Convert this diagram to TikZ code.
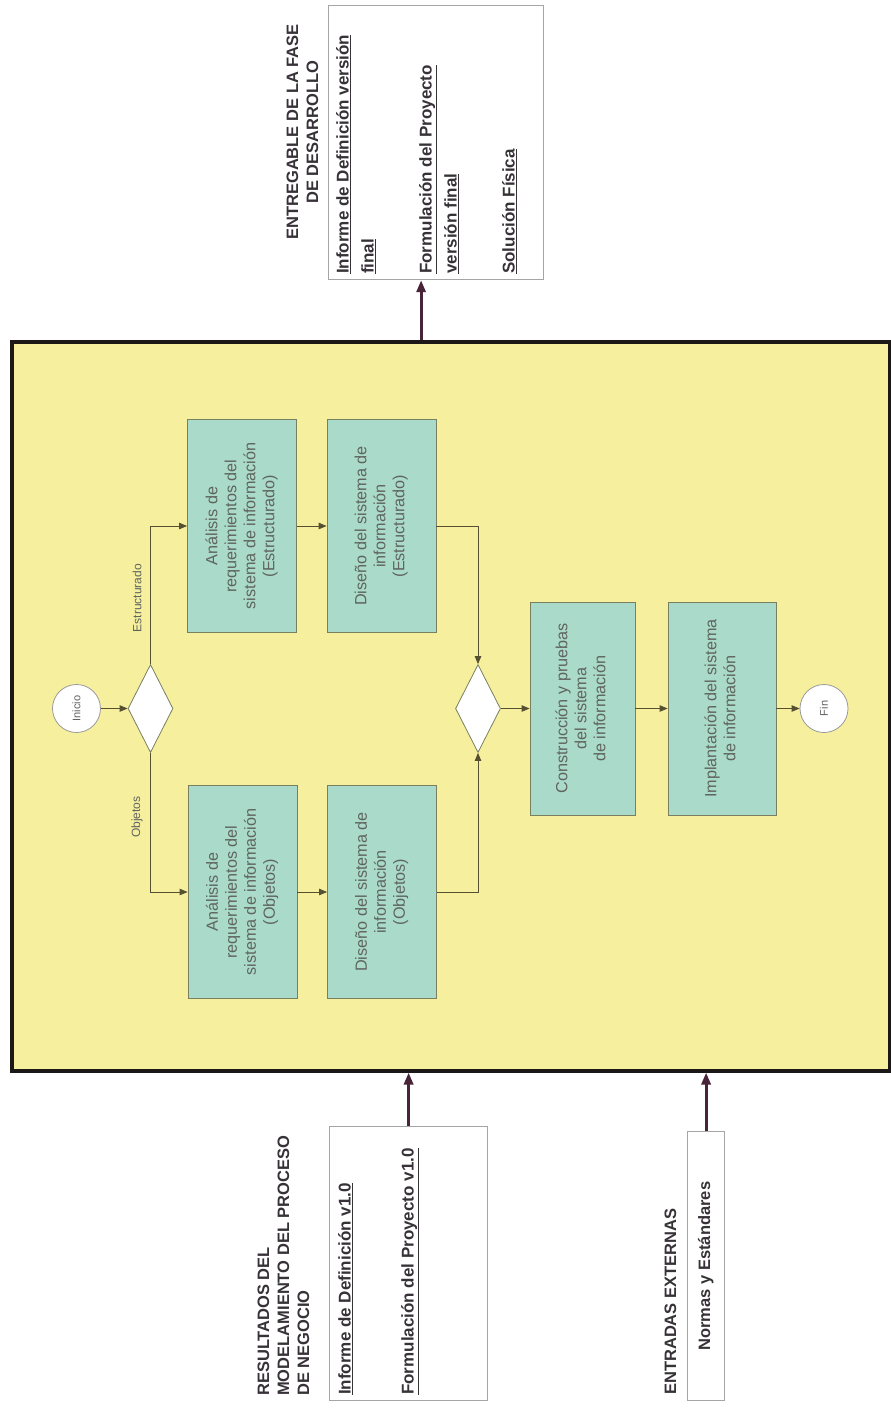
\documentclass[tikz,border=0pt]{standalone}
\usepackage{fontspec}
\setmainfont{Liberation Sans}
\usepackage{graphicx}
\usetikzlibrary{shapes.geometric,arrows.meta}
\definecolor{fasefill}{RGB}{246,239,158}
\definecolor{faseline}{RGB}{28,24,24}
\definecolor{stepfill}{RGB}{170,219,202}
\definecolor{stepline}{RGB}{120,128,95}
\definecolor{steptext}{RGB}{95,100,95}
\definecolor{flowline}{RGB}{85,80,50}
\definecolor{ioline}{RGB}{72,36,56}
\definecolor{docline}{RGB}{165,165,165}
\definecolor{doctext}{RGB}{55,50,55}
% text block turned a quarter turn, reading upwards
\newcommand\vblock[2]{\rotatebox{90}{\begin{tabular}{@{}#1@{}}#2\end{tabular}}}

\begin{document}
\begin{tikzpicture}[x=1pt,y=1pt,
  fasebox/.style={draw=faseline, line width=3.5pt, fill=fasefill, inner sep=0, anchor=north west},
  stepbox/.style={draw=stepline, line width=0.8pt, fill=stepfill, minimum width=109pt, minimum height=213pt,
    inner sep=0, text=steptext, font=\fontsize{16.2}{19}\selectfont},
  gate/.style={diamond, draw=stepline, fill=white, line width=0.8pt, minimum width=45pt, minimum height=88pt, inner sep=0},
  terminal/.style={circle, draw=gray!80, fill=white, line width=0.8pt, minimum size=48pt, inner sep=0,
    text=steptext, font=\fontsize{11}{12}\selectfont},
  flow/.style={draw=flowline, line width=0.8pt, -{Triangle[length=8pt,width=6.5pt]}},
  iobox/.style={draw=docline, line width=1.2pt, fill=white, inner sep=0, anchor=north west},
  ioflow/.style={draw=ioline, line width=3pt, -{Triangle[length=12pt,width=9pt]}},
  heading/.style={inner sep=0, text=doctext, font=\fontsize{16.5}{20}\selectfont\bfseries},
  doc/.style={inner sep=0, text=doctext, font=\fontsize{17}{25}\selectfont\bfseries, anchor=south west},
  branch/.style={inner sep=0, text=steptext, font=\fontsize{12}{13}\selectfont, rotate=90}
]
\useasboundingbox (0,0) rectangle (891,-1416);
\fill[white] (0,0) rectangle (891,-1416);

% development phase frame
\node[fasebox, minimum width=878pt, minimum height=729pt] (fase) at (10,-340) {};

% deliverables
\node[iobox, minimum width=215pt, minimum height=274pt] (entrega) at (328,-5) {};
\node[heading] (tEntrega) at (304,-132) {\vblock{c}{ENTREGABLE DE LA FASE\\DE DESARROLLO}};
\node[doc] (dInforme) at (331,-274) {\vblock{l}{\underline{Informe de Definición versión}\\\underline{final}}};
\node[doc] (dFormula) at (414,-274) {\vblock{l}{\underline{Formulación del Proyecto}\\\underline{versión final}}};
\node[doc] (dSolucion) at (497,-274) {\vblock{l}{\underline{Solución Física}}};

% inputs
\node[iobox, minimum width=158pt, minimum height=274pt] (res) at (329,-1126) {};
\node[heading, anchor=south west] (tRes) at (255,-1396) {\vblock{l}{RESULTADOS DEL\\MODELAMIENTO DEL PROCESO\\DE NEGOCIO}};
\node[doc] (rInforme) at (333,-1395) {\vblock{l}{\underline{Informe de Definición v1.0}}};
\node[doc] (rFormula) at (396,-1395) {\vblock{l}{\underline{Formulación del Proyecto v1.0}}};

\node[iobox, minimum width=37pt, minimum height=269pt] (normas) at (687,-1131) {};
\node[heading, anchor=south west] (tExt) at (662,-1395) {\vblock{l}{ENTRADAS EXTERNAS}};
\node[heading] (tNormas) at (normas.center) {\vblock{c}{Normas y Estándares}};

% process flow
\node[terminal] (ini) at (76.5,-708.5) {\rotatebox{90}{Inicio}};
\node[gate] (g1) at (150.5,-708.5) {};
\node[stepbox] (aE) at (242,-526) {\vblock{c}{Análisis de\\requerimientos del\\sistema de información\\(Estructurado)}};
\node[stepbox] (dE) at (381.5,-526) {\vblock{c}{Diseño del sistema de\\información\\(Estructurado)}};
\node[stepbox] (aO) at (242.5,-892) {\vblock{c}{Análisis de\\requerimientos del\\sistema de información\\(Objetos)}};
\node[stepbox] (dO) at (382,-892) {\vblock{c}{Diseño del sistema de\\información\\(Objetos)}};
\node[gate] (g2) at (478,-708.5) {};
\node[stepbox, minimum width=105pt] (cons) at (582.5,-708.5) {\vblock{c}{Construcción y pruebas\\del sistema\\de información}};
\node[stepbox, minimum width=108pt] (impl) at (722,-708.5) {\vblock{c}{Implantación del sistema\\de información}};
\node[terminal] (fin) at (824,-708.5) {\rotatebox{90}{Fin}};

\node[branch] (lE) at (137,-598) {Estructurado};
\node[branch] (lO) at (137,-817) {Objetos};

\draw[flow] (ini) -- (g1);
\draw[flow] (g1.north) |- (aE.west);
\draw[flow] (g1.south) |- (aO.west);
\draw[flow] (aE) -- (dE);
\draw[flow] (aO) -- (dO);
\draw[flow] (dE.east) -| (g2.north);
\draw[flow] (dO.east) -| (g2.south);
\draw[flow] (g2) -- (cons);
\draw[flow] (cons) -- (impl);
\draw[flow] (impl) -- (fin);

% flows into and out of the phase
\path (entrega.south) ++(-15,0) coordinate (eIn);
\draw[ioflow] (eIn |- fase.north) -- (eIn);
\draw[ioflow] (res.north) -- (res.north |- fase.south);
\draw[ioflow] (normas.north) -- (normas.north |- fase.south);
\end{tikzpicture}
\end{document}
